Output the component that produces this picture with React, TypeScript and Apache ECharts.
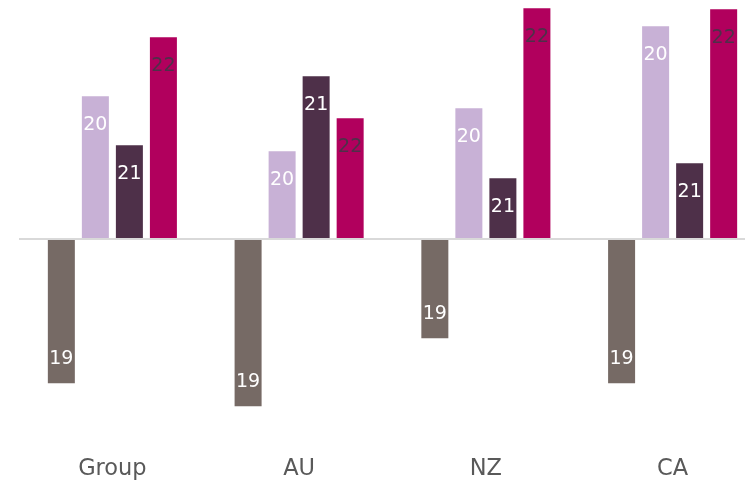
import React, { useEffect, useRef } from "react";
import * as echarts from "echarts";

const categories = ["Group", "AU", "NZ", "CA"];
const seriesNames = ["19", "20", "21", "22"];
const values19 = [-14.5, -16.8, -10.0, -14.5];
const values20 = [14.2, 8.7, 13.0, 21.2];
const values21 = [9.3, 16.2, 6.0, 7.5];
const values22 = [20.1, 12.0, 23.1, 22.9];
const colors = ["#766a65", "#c8b1d6", "#4e3049", "#b1005d"];
const labelColors = ["#ffffff", "#ffffff", "#ffffff", "#4e3049"];

export default function App() {
  const ref = useRef<HTMLDivElement>(null);
  useEffect(() => {
    if (!ref.current) return;
    const chart = echarts.init(ref.current, null, { renderer: "svg" });
    const data = [values19, values20, values21, values22];
    const font = "'DejaVu Sans', sans-serif";
    chart.setOption({
      animation: false,
      grid: {
        left: 19,
        top: 8.3,
        width: 747,
        height: 430,
        containLabel: false,
        outerBoundsMode: "none",
      },
      xAxis: {
        type: "category",
        data: categories,
        position: "bottom",
        axisLine: { show: false, onZero: false },
        axisTick: { show: false },
        axisLabel: { color: "#595959", fontSize: 22.5, fontFamily: font, margin: 17 },
      },
      yAxis: {
        type: "value",
        min: -20,
        max: 23,
        show: false,
        splitLine: { show: false },
      },
      series: seriesNames.map((name, i) => ({
        name,
        type: "bar",
        data: data[i],
        barWidth: 27,
        barGap: "26%",
        itemStyle: { color: colors[i] },
        label: {
          show: true,
          formatter: name,
          position: i === 0 ? "insideBottom" : "insideTop",
          distance: 17,
          color: labelColors[i],
          fontSize: 19,
          fontFamily: font,
        },
        markLine:
          i === 0
            ? {
                silent: true,
                symbol: "none",
                label: { show: false },
                lineStyle: { color: "#d9d9d9", width: 2, type: "solid" },
                data: [{ yAxis: 0 }],
                z: 10,
              }
            : undefined,
      })),
    });
    return () => chart.dispose();
  }, []);
  return (
    <div
      ref={ref}
      style={{ position: "fixed", left: 0, top: 0, width: 745, height: 482 }}
    />
  );
}
